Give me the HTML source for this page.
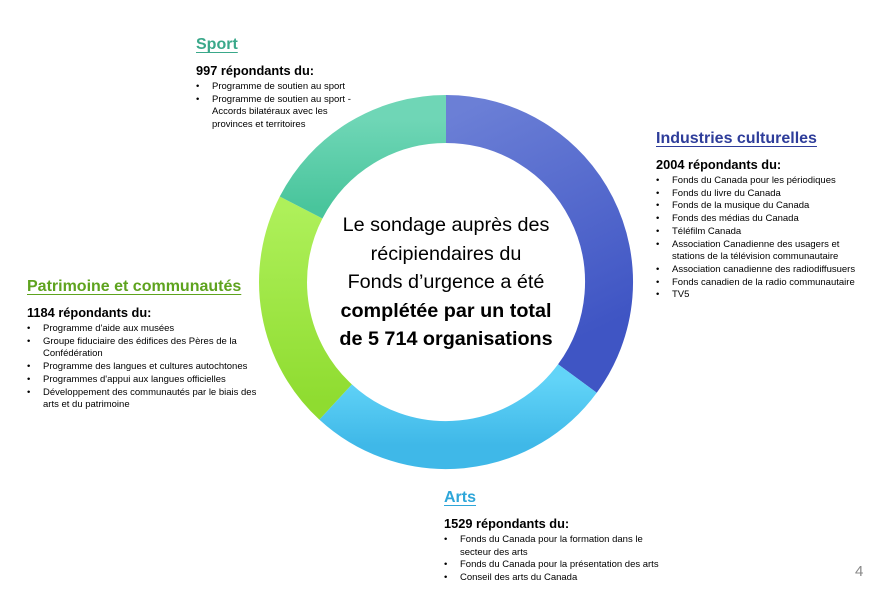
<!DOCTYPE html>
<html><head><meta charset="utf-8"><style>
body{margin:0;width:877px;height:593px;background:#fff;position:relative;overflow:hidden;font-family:"Liberation Sans",sans-serif;color:#000}
.blk{position:absolute}
.t{font-weight:bold;font-size:16px;text-decoration:underline;text-underline-offset:3px;line-height:20px;white-space:nowrap}
.h{font-weight:bold;font-size:12.8px;margin-top:9px;line-height:14px;white-space:nowrap}
ul{margin:3px 0 0 0;padding:0;list-style:none}
li{font-size:9.5px;line-height:12.7px;padding-left:16px;position:relative;white-space:nowrap}
li:before{content:"•";position:absolute;left:0;top:0}
.c{position:absolute;left:286px;width:320px;top:211px;text-align:center;font-size:19.8px;line-height:28.5px}
</style></head><body>
<svg width="877" height="593" style="position:absolute;left:0;top:0">
<defs>
<linearGradient id="gb" x1="0" y1="0" x2="0.3" y2="1"><stop offset="0" stop-color="#6b7fd6"/><stop offset="1" stop-color="#3f55c4"/></linearGradient>
<linearGradient id="ga" x1="0" y1="0" x2="0" y2="1"><stop offset="0" stop-color="#62d4f8"/><stop offset="1" stop-color="#3fb8e8"/></linearGradient>
<linearGradient id="gp" x1="0" y1="0" x2="0" y2="1"><stop offset="0" stop-color="#aef05a"/><stop offset="1" stop-color="#8fdc30"/></linearGradient>
<linearGradient id="gs" x1="0" y1="0" x2="0" y2="1"><stop offset="0" stop-color="#6fd6b6"/><stop offset="1" stop-color="#49c59c"/></linearGradient>
</defs>
<g fill="none" stroke-width="48">
<path d="M446 119 A163 163 0 0 1 577.4 378.5" stroke="url(#gb)"/>
<path d="M577.4 378.5 A163 163 0 0 1 335.6 402" stroke="url(#ga)"/>
<path d="M335.6 402 A163 163 0 0 1 301.1 207.5" stroke="url(#gp)"/>
<path d="M301.1 207.5 A163 163 0 0 1 446 119" stroke="url(#gs)"/>
</g>
</svg>
<div class="blk" style="left:196px;top:35px">
<div class="t" style="color:#3aa88a">Sport</div>
<div class="h">997 répondants du:</div>
<ul><li>Programme de soutien au sport</li><li>Programme de soutien au sport -<br>Accords bilatéraux avec les<br>provinces et territoires</li></ul>
</div>
<div class="blk" style="left:656px;top:129px">
<div class="t" style="color:#2e3d9a">Industries culturelles</div>
<div class="h">2004 répondants du:</div>
<ul><li>Fonds du Canada pour les périodiques</li><li>Fonds du livre du Canada</li><li>Fonds de la musique du Canada</li><li>Fonds des médias du Canada</li><li>Téléfilm Canada</li><li>Association Canadienne des usagers et<br>stations de la télévision communautaire</li><li>Association canadienne des radiodiffusuers</li><li>Fonds canadien de la radio communautaire</li><li>TV5</li></ul>
</div>
<div class="blk" style="left:27px;top:277px">
<div class="t" style="color:#5ea31e">Patrimoine et communautés</div>
<div class="h">1184 répondants du:</div>
<ul><li>Programme d'aide aux musées</li><li>Groupe fiduciaire des édifices des Pères de la<br>Confédération</li><li>Programme des langues et cultures autochtones</li><li>Programmes d'appui aux langues officielles</li><li>Développement des communautés par le biais des<br>arts et du patrimoine</li></ul>
</div>
<div class="blk" style="left:444px;top:488px">
<div class="t" style="color:#2ea6d9">Arts</div>
<div class="h">1529 répondants du:</div>
<ul><li>Fonds du Canada pour la formation dans le<br>secteur des arts</li><li>Fonds du Canada pour la présentation des arts</li><li>Conseil des arts du Canada</li></ul>
</div>
<div class="c">Le sondage auprès des<br>récipiendaires du<br>Fonds d’urgence a été<br><b>complétée par un total<br>de 5 714 organisations</b></div>
<div style="position:absolute;left:855px;top:563px;font-size:15px;color:#888">4</div>
</body></html>
